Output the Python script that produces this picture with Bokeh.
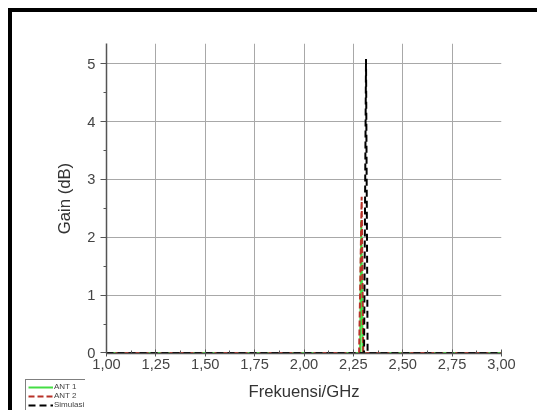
from bokeh.plotting import figure
from bokeh.layouts import column
from bokeh.models import Range1d, FixedTicker, Legend, LegendItem
from bokeh.embed import file_html
from bokeh.resources import INLINE

# ---- data ----
ant1_freq = [1.00, 2.284, 2.290, 2.297, 3.00]
ant1_gain = [0.0, 0.0, 2.30, 0.0, 0.0]
ant2_freq = [1.00, 2.279, 2.292, 2.300, 3.00]
ant2_gain = [0.0, 0.0, 2.70, 0.0, 0.0]
sim_freq = [1.00, 2.304, 2.314, 2.322, 3.00]
sim_gain = [0.0, 0.0, 5.08, 0.0, 0.0]

series_names = ["ANT 1", "ANT 2", "Simulasi"]
x_ticks = [1.00, 1.25, 1.50, 1.75, 2.00, 2.25, 2.50, 2.75, 3.00]
x_tick_labels = ["1,00", "1,25", "1,50", "1,75", "2,00", "2,25", "2,50", "2,75", "3,00"]
y_ticks = [0, 1, 2, 3, 4, 5]
y_tick_labels = ["0", "1", "2", "3", "4", "5"]

FONT = "Liberation Sans"
STYLES = [dict(line_color="#44dd44", line_width=2),
          dict(line_color="#b83228", line_width=2, line_dash="6 3"),
          dict(line_color="black", line_width=2, line_dash="7 4")]
freqs = [ant1_freq, ant2_freq, sim_freq]
gains = [ant1_gain, ant2_gain, sim_gain]

p = figure(width=525, height=398, output_backend="svg", toolbar_location=None,
           x_range=Range1d(1.0, 3.0), y_range=Range1d(-0.01, 5.35),
           min_border_left=94, min_border_right=36, min_border_top=31,
           min_border_bottom=57, margin=(0, 0, 0, 0))
p.outline_line_color = None
p.background_fill_color = "white"
p.border_fill_color = "white"

x_minor = [t + 0.125 for t in x_ticks[:-1]]
y_minor = [t + 0.5 for t in y_ticks[:-1]]
p.xaxis.ticker = FixedTicker(ticks=x_ticks, minor_ticks=x_minor)
p.yaxis.ticker = FixedTicker(ticks=y_ticks, minor_ticks=y_minor)
p.xaxis.major_label_overrides = {t: l for t, l in zip(x_ticks, x_tick_labels)}
p.yaxis.major_label_overrides = {t: l for t, l in zip(y_ticks, y_tick_labels)}

for ax in (p.xaxis, p.yaxis):
    ax.axis_line_color = "#555555"
    ax.axis_line_width = 1.5
    ax.major_tick_line_color = "#555555"
    ax.minor_tick_line_color = "#555555"
    ax.major_label_text_font = FONT
    ax.major_label_text_font_size = "11pt"
    ax.major_label_text_color = "#444444"
    ax.axis_label_text_font = FONT
    ax.axis_label_text_font_style = "normal"
    ax.axis_label_text_font_size = "12.5pt"
    ax.axis_label_text_color = "#333333"

p.xaxis.major_tick_in = 4
p.xaxis.major_tick_out = 3
p.xaxis.minor_tick_in = 3
p.xaxis.minor_tick_out = 0
p.yaxis.major_tick_in = 0
p.yaxis.major_tick_out = 6
p.yaxis.minor_tick_in = 0
p.yaxis.minor_tick_out = 3

p.xaxis.axis_label = "Frekuensi/GHz"
p.yaxis.axis_label = "Gain (dB)"
p.xaxis.axis_label_standoff = 10
p.yaxis.axis_label_standoff = 10
p.xaxis.major_label_standoff = 2

p.xgrid.ticker = FixedTicker(ticks=x_ticks[1:-1])
p.ygrid.ticker = FixedTicker(ticks=y_ticks[1:])
p.xgrid.grid_line_color = "#a8a8a8"
p.ygrid.grid_line_color = "#a8a8a8"

for fx, gy, st in zip(freqs, gains, STYLES):
    p.line(fx, gy, **st)

# small overlay figure that only carries the legend (bottom-left corner);
# its ranges keep the series out of view, only the legend shows
lf = figure(width=80, height=31, output_backend="svg", toolbar_location=None,
            x_axis_type=None, y_axis_type=None, min_border=0,
            x_range=Range1d(10, 11), y_range=Range1d(10, 11),
            margin=(-31, 0, 0, 3))
lf.outline_line_color = None
lf.background_fill_alpha = 0
lf.border_fill_alpha = 0
lf.grid.visible = False
items = []
for name, fx, gy, st in zip(series_names, freqs, gains, STYLES):
    r = lf.line(fx, gy, **st)
    items.append(LegendItem(label=name, renderers=[r]))
legend = Legend(items=items, location="top_left")
legend.label_text_font = FONT
legend.label_text_font_size = "6pt"
legend.label_height = 8
legend.glyph_height = 8
legend.glyph_width = 25
legend.label_standoff = 1
legend.spacing = 0
legend.padding = 2
legend.margin = 0
legend.border_line_color = "black"
legend.border_line_width = 1
legend.background_fill_color = "white"
legend.background_fill_alpha = 1
lf.add_layout(legend, "center")

layout = column(p, lf, spacing=0, margin=(8, 0, 0, 8),
                styles={"border-top": "4px solid black", "border-left": "4px solid black",
                        "position": "fixed", "top": "0px", "left": "0px"})
open("out.html", "w").write(file_html(layout, INLINE))
